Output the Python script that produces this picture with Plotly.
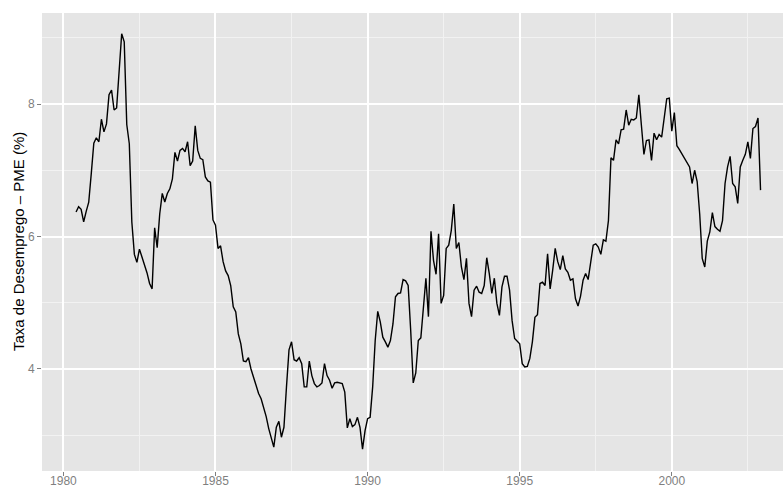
import plotly.graph_objects as go

# Monthly unemployment rate (PME), starting June 1980
start_year = 1980 + 5 / 12
values = [
    6.37, 6.45, 6.41, 6.22, 6.38, 6.52, 6.95, 7.41, 7.49, 7.43, 7.77, 7.58,
    7.70, 8.14, 8.21, 7.91, 7.94, 8.50, 9.06, 8.94, 7.69, 7.40, 6.22, 5.73,
    5.61, 5.81, 5.69, 5.59, 5.45, 5.29, 5.21, 6.13, 5.83, 6.34, 6.65, 6.52,
    6.65, 6.72, 6.87, 7.27, 7.14, 7.30, 7.33, 7.28, 7.43, 7.07, 7.14, 7.67,
    7.30, 7.18, 7.16, 6.90, 6.84, 6.82, 6.25, 6.17, 5.82, 5.86, 5.62, 5.48,
    5.41, 5.26, 4.94, 4.86, 4.53, 4.38, 4.12, 4.11, 4.17, 4.00, 3.88, 3.78,
    3.63, 3.55, 3.43, 3.28, 3.10, 2.95, 2.82, 3.12, 3.21, 2.97, 3.12, 3.73,
    4.29, 4.41, 4.14, 4.12, 4.17, 4.08, 3.73, 3.73, 4.12, 3.90, 3.78, 3.73,
    3.75, 3.79, 4.08, 3.90, 3.83, 3.71, 3.79, 3.80, 3.79, 3.78, 3.65, 3.11,
    3.25, 3.13, 3.16, 3.27, 3.12, 2.79, 3.07, 3.25, 3.27, 3.73, 4.43, 4.87,
    4.71, 4.48, 4.41, 4.33, 4.43, 4.68, 5.09, 5.14, 5.15, 5.35, 5.33, 5.26,
    4.58, 3.79, 3.94, 4.43, 4.47, 4.94, 5.37, 4.79, 6.08, 5.64, 5.43, 6.04,
    4.99, 5.11, 5.82, 5.87, 6.09, 6.49, 5.82, 5.91, 5.54, 5.35, 5.67, 4.99,
    4.79, 5.19, 5.25, 5.16, 5.14, 5.26, 5.68, 5.44, 5.14, 5.37, 4.99, 4.81,
    5.24, 5.40, 5.40, 5.19, 4.73, 4.46, 4.42, 4.38, 4.08, 4.03, 4.04, 4.16,
    4.41, 4.78, 4.82, 5.29, 5.31, 5.26, 5.74, 5.21, 5.49, 5.82, 5.62, 5.50,
    5.71, 5.51, 5.46, 5.34, 5.36, 5.06, 4.95, 5.10, 5.34, 5.44, 5.35, 5.59,
    5.87, 5.89, 5.84, 5.73, 5.95, 5.93, 6.24, 7.19, 7.15, 7.46, 7.40, 7.61,
    7.62, 7.91, 7.68, 7.77, 7.76, 7.79, 8.14, 7.68, 7.24, 7.45, 7.46, 7.15,
    7.56, 7.46, 7.54, 7.50, 7.81, 8.08, 8.09, 7.59, 7.87, 7.37, 7.31, 7.25,
    7.18, 7.11, 7.05, 6.80, 7.00, 6.83, 6.34, 5.67, 5.54, 5.93, 6.07, 6.36,
    6.15, 6.11, 6.08, 6.24, 6.80, 7.05, 7.21, 6.80, 6.75, 6.50, 7.05, 7.15,
    7.24, 7.43, 7.18, 7.63, 7.66, 7.79, 6.70,
]
x_ticks = [1980, 1985, 1990, 1995, 2000]
y_ticks = [4, 6, 8]
y_title = "Taxa de Desemprego – PME (%)"

times = [start_year + i / 12 for i in range(len(values))]

fig = go.Figure()
fig.add_trace(go.Scatter(x=times, y=values, mode="lines",
                         line=dict(color="black", width=1.4),
                         hoverinfo="skip", showlegend=False))

axis_common = dict(
    showline=False, zeroline=False, showgrid=True, automargin=False,
    gridcolor="white", gridwidth=1.5,
    ticks="outside", ticklen=4, tickwidth=1, tickcolor="#7F7F7F",
    tickfont=dict(family="Liberation Sans, Arial, sans-serif", size=12, color="#7F7F7F"),
)

fig.update_layout(
    width=783, height=488,
    margin=dict(l=42, r=0, t=13, b=17),
    paper_bgcolor="white", plot_bgcolor="#E5E5E5",
    xaxis=dict(range=[1979.297, 2003.655], tickvals=x_ticks,
               ticktext=[str(v) for v in x_ticks], ticklabelstandoff=-5,
               minor=dict(dtick=2.5, tick0=1977.5, showgrid=True,
                          gridcolor="#F2F2F2", gridwidth=0.8, ticks=""),
               **axis_common),
    yaxis=dict(range=[2.46, 9.374], tickvals=y_ticks,
               ticktext=[str(v) for v in y_ticks],
               minor=dict(dtick=1, tick0=3, showgrid=True,
                          gridcolor="#F2F2F2", gridwidth=0.8, ticks=""),
               **axis_common),
    annotations=[dict(text=y_title, textangle=-90, x=0, y=0.5,
                      xref="paper", yref="paper", xanchor="center", yanchor="middle",
                      xshift=-24, showarrow=False,
                      font=dict(family="Liberation Sans, Arial, sans-serif", size=15, color="black"))],
)

fig.write_html("out.html", config={"displayModeBar": False},
               post_script="document.body.style.margin='0';document.body.style.overflow='hidden';")
